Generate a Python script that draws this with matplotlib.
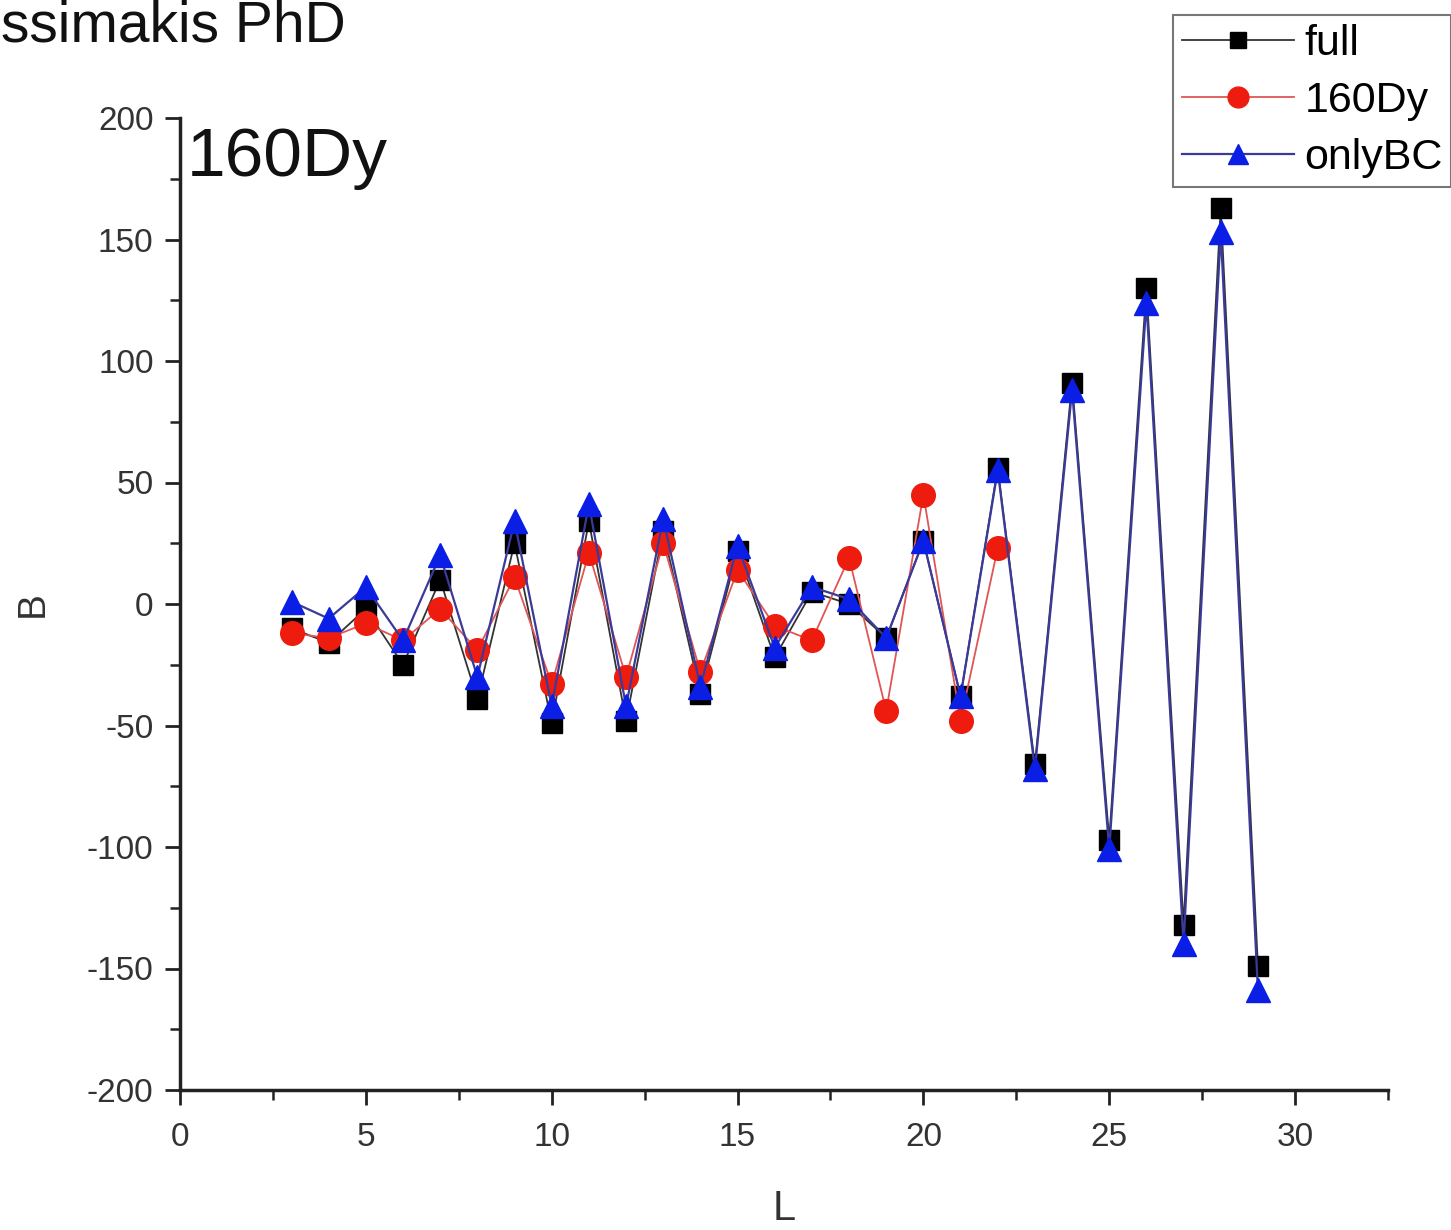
import matplotlib
matplotlib.use("Agg")
import matplotlib.pyplot as plt
from matplotlib.ticker import MultipleLocator

L_full = list(range(3, 30))
B_full = [-10, -16, -2, -25, 10, -39, 25, -49, 34, -48, 30, -37, 22, -22, 5, 0,
          -14, 26, -38, 56, -66, 91, -97, 130, -132, 163, -149]

L_dy = list(range(3, 23))
B_dy = [-12, -14, -8, -15, -2, -19, 11, -33, 21, -30, 25, -28, 14, -9, -15, 19,
        -44, 45, -48, 23]

L_bc = list(range(3, 30))
B_bc = [1, -6, 7, -15, 20, -30, 34, -42, 41, -42, 35, -34, 24, -18, 7, 2,
        -14, 26, -38, 55, -68, 88, -101, 124, -140, 153, -159]

series_labels = ["full", "160Dy", "onlyBC"]
x_ticks = [0, 5, 10, 15, 20, 25, 30]
y_ticks = [-200, -150, -100, -50, 0, 50, 100, 150, 200]

plt.rcParams['font.family'] = ['Liberation Sans', 'DejaVu Sans']
plt.rcParams['axes.unicode_minus'] = False

fig = plt.figure(figsize=(14.51, 12.30), dpi=100)
ax = fig.add_axes([180/1451, 1-1090/1230, (1388-180)/1451, (1090-118)/1230])

ax.plot(L_full, B_full, color='#333333', lw=1.3, marker='s', ms=14,
        mfc='black', mec='black', label=series_labels[0], zorder=3)
ax.plot(L_dy, B_dy, color='#e05555', lw=1.3, marker='o', ms=17,
        mfc='#ee1c0e', mec='#ee1c0e', label=series_labels[1], zorder=4)
ax.plot(L_bc, B_bc, color='#3a3a9a', lw=1.6, marker='^', ms=17,
        mfc='#0a1ee6', mec='#0a1ee6', label=series_labels[2], zorder=5)

ax.set_xlim(0, 32.5)
ax.set_ylim(-200, 200)
ax.set_xticks(x_ticks)
ax.set_yticks(y_ticks)
ax.xaxis.set_minor_locator(MultipleLocator(2.5))
ax.yaxis.set_minor_locator(MultipleLocator(25))

for s in ['top', 'right']:
    ax.spines[s].set_visible(False)
for s in ['left', 'bottom']:
    ax.spines[s].set_linewidth(2.5)
    ax.spines[s].set_color('#222222')

ax.tick_params(which='major', direction='out', length=11, width=2,
               labelsize=24, labelcolor='#333333', color='#222222', pad=8)
ax.tick_params(which='major', axis='x', pad=12)
ax.tick_params(which='minor', direction='out', length=7, width=1.8, color='#222222')

ax.set_xlabel("L", fontsize=30, color='#333333', labelpad=26)
ax.set_ylabel("B", fontsize=28, color='#333333', labelpad=26)

ax.text(0.006, 0.992, "160Dy", transform=ax.transAxes, fontsize=50,
        va='top', ha='left', color='#111111')

fig.text(0.001, 1 - 41/1230, "ssimakis PhD", fontsize=41, fontweight='light',
         ha='left', va='baseline', color='#111111')

leg = fig.legend(loc='upper left', bbox_to_anchor=(1173/1451, 1-15/1230),
                 fontsize=31, frameon=True, fancybox=False, handlelength=2.6,
                 borderpad=0.2, labelspacing=0.4, handletextpad=0.25,
                 borderaxespad=0)
leg.get_frame().set_edgecolor('#555555')
leg.get_frame().set_linewidth(1.5)
for h, ms in zip(leg.legend_handles, [11, 15, 15]):
    h.set_markersize(ms)

fig.savefig("out.png", dpi=100)
